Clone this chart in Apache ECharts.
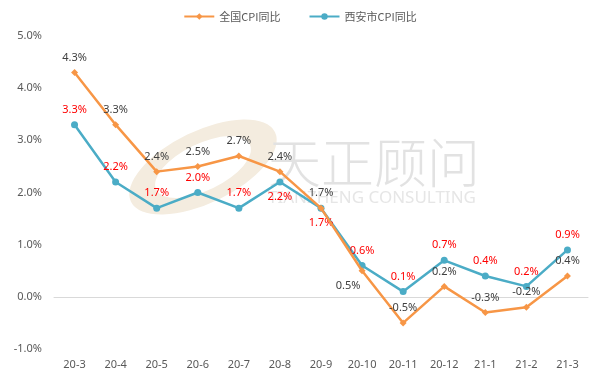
<!DOCTYPE html>
<html><head><meta charset="utf-8">
<script src="https://cdn.jsdelivr.net/npm/echarts@6/dist/echarts.min.js"></script>
<style>html,body{margin:0;padding:0;background:#fff}#c{width:600px;height:370px}</style>
</head><body><div id="c"></div>
<script>
const categories = ['20-3','20-4','20-5','20-6','20-7','20-8','20-9','20-10','20-11','20-12','21-1','21-2','21-3'];
const nationalCPI = [4.3,3.3,2.4,2.5,2.7,2.4,1.7,0.5,-0.5,0.2,-0.3,-0.2,0.4];
const xianCPI = [3.3,2.2,1.7,2.0,1.7,2.2,1.7,0.6,0.1,0.7,0.4,0.2,0.9];
const seriesNames = ['全国CPI同比','西安市CPI同比'];
const yTicks = [-1,0,1,2,3,4,5];

const font = '"Noto Sans", "Noto Sans CJK SC", sans-serif';
const chart = echarts.init(document.getElementById('c'));
const fmt = p => p.value.toFixed(1) + '%';
const natData = nationalCPI.map((v,i)=>{
  const d = {value:v};
  if (i===7) d.label = {position:'bottom', offset:[-14,0]};
  return d;
});
const xaData = xianCPI.map((v,i)=>{
  const d = {value:v};
  if (i===5 || i===6) d.label = {position:'bottom'};
  return d;
});
chart.setOption({
  animation:false,
  textStyle:{fontFamily:font},
  graphic:[
    {type:'ring', shape:{cx:0,cy:0,r:80,r0:52}, x:203, y:167, scaleY:0.45, rotation:0.45, style:{fill:'#f4ecdf'}, z:-10, silent:true},
    {type:'text', x:268, y:136, style:{text:'天正顾问', font:'300 53px "Noto Sans CJK SC"', fill:'#e2e2e2'}, z:-10, silent:true},
    {type:'text', x:268, y:190, style:{text:'TIANZHENG CONSULTING', font:'400 17px "Noto Sans", sans-serif', fill:'#e6e6e6'}, z:-10, silent:true}
  ],
  legend:{
    top:6, left:'center', itemWidth:30, itemHeight:8, itemGap:28,
    textStyle:{fontFamily:'"Noto Sans CJK SC"', fontSize:11, color:'#595959'},
    data:seriesNames
  },
  grid:{left:54, right:12, top:36, bottom:15, containLabel:false},
  xAxis:{
    type:'category', data:categories, boundaryGap:true,
    axisLine:{lineStyle:{color:'#d9d9d9', width:1}},
    axisTick:{show:false},
    axisLabel:{color:'#595959', fontSize:11, margin:10}
  },
  yAxis:{
    type:'value', min:yTicks[0], max:yTicks[yTicks.length-1], interval:1,
    axisLine:{show:false}, axisTick:{show:false},
    splitLine:{show:false},
    axisLabel:{color:'#595959', fontSize:11, margin:12, formatter:v=>v.toFixed(1)+'%'}
  },
  series:[
    {name:seriesNames[0], type:'line', data:natData, symbol:'diamond', symbolSize:7,
     itemStyle:{color:'#f79646'}, lineStyle:{color:'#f79646', width:2.5},
     label:{show:true, position:'top', distance:6, color:'#404040', fontSize:11, formatter:fmt}, z:3},
    {name:seriesNames[1], type:'line', data:xaData, symbol:'circle', symbolSize:7,
     itemStyle:{color:'#4bacc6'}, lineStyle:{color:'#4bacc6', width:2.5},
     label:{show:true, position:'top', distance:6, color:'#ff0000', fontSize:11, formatter:fmt}, z:2}
  ]
});
</script></body></html>
